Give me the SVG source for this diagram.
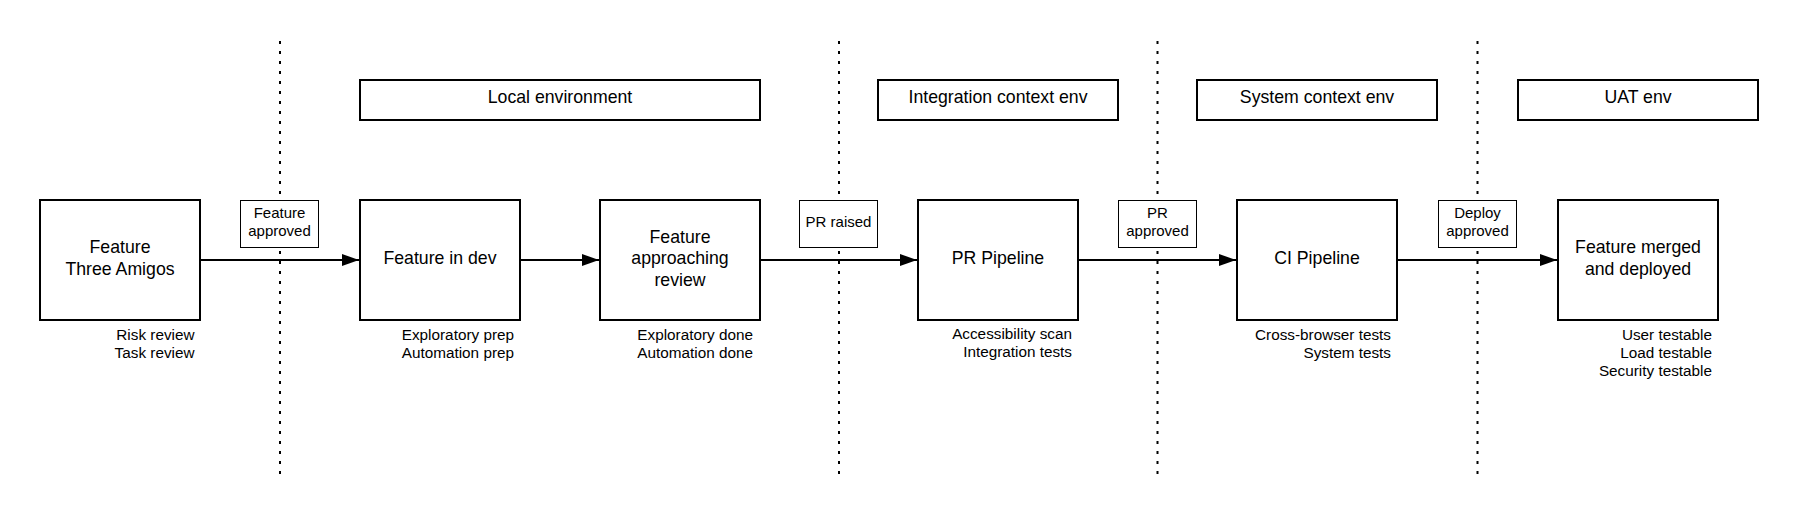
<svg xmlns="http://www.w3.org/2000/svg" width="1798" height="520" viewBox="0 0 1798 520">
<defs>
<style>
.bg{fill:#ffffff}
.box{fill:#ffffff;stroke:#000000;stroke-width:2}
.lbl{fill:#ffffff;stroke:#000000;stroke-width:1}
.div{stroke:#000000;stroke-width:2;stroke-dasharray:3 7;fill:none}
.edge{stroke:#000000;stroke-width:2;fill:none}
.t18{font-family:"Liberation Sans",Arial,sans-serif;font-size:17.7px;fill:#000000;text-anchor:middle}
.t15{font-family:"Liberation Sans",Arial,sans-serif;font-size:15px;fill:#000000;text-anchor:middle}
.sub{font-family:"Liberation Sans",Arial,sans-serif;font-size:15.3px;fill:#000000;text-anchor:end}
</style>
<marker id="arr" viewBox="0 0 17 12" refX="17" refY="6" markerWidth="17" markerHeight="12" markerUnits="userSpaceOnUse" orient="auto">
<path d="M0,0 L17,6 L0,12 Z" fill="#000000"/>
</marker>
</defs>
<rect class="bg" x="0" y="0" width="1798" height="520"/>

<g id="dividers">
<line class="div" x1="280" y1="41" x2="280" y2="481"/>
<line class="div" x1="839" y1="41" x2="839" y2="481"/>
<line class="div" x1="1157.5" y1="41" x2="1157.5" y2="481"/>
<line class="div" x1="1477.5" y1="41" x2="1477.5" y2="481"/>
</g>

<g id="connectors">
<line class="edge" x1="200" y1="260" x2="359" y2="260" marker-end="url(#arr)"/>
<line class="edge" x1="520" y1="260" x2="599" y2="260" marker-end="url(#arr)"/>
<line class="edge" x1="760" y1="260" x2="917" y2="260" marker-end="url(#arr)"/>
<line class="edge" x1="1078" y1="260" x2="1236" y2="260" marker-end="url(#arr)"/>
<line class="edge" x1="1397" y1="260" x2="1557" y2="260" marker-end="url(#arr)"/>
</g>

<g id="env-local">
<rect class="box" x="360" y="80" width="400" height="40"/>
<text class="t18" x="560" y="103">Local environment</text>
</g>
<g id="env-integration">
<rect class="box" x="878" y="80" width="240" height="40"/>
<text class="t18" x="998" y="103">Integration context env</text>
</g>
<g id="env-system">
<rect class="box" x="1197" y="80" width="240" height="40"/>
<text class="t18" x="1317" y="103">System context env</text>
</g>
<g id="env-uat">
<rect class="box" x="1518" y="80" width="240" height="40"/>
<text class="t18" x="1638" y="103">UAT env</text>
</g>

<g id="label-feature-approved">
<rect class="lbl" x="240.5" y="200.5" width="78" height="47"/>
<text class="t15" x="279.5" y="217.5">Feature</text>
<text class="t15" x="279.5" y="235.5">approved</text>
</g>
<g id="label-pr-raised">
<rect class="lbl" x="799.5" y="200.5" width="78" height="47"/>
<text class="t15" x="838.5" y="227">PR raised</text>
</g>
<g id="label-pr-approved">
<rect class="lbl" x="1118.5" y="200.5" width="78" height="47"/>
<text class="t15" x="1157.5" y="217.5">PR</text>
<text class="t15" x="1157.5" y="235.5">approved</text>
</g>
<g id="label-deploy-approved">
<rect class="lbl" x="1438.5" y="200.5" width="78" height="47"/>
<text class="t15" x="1477.5" y="217.5">Deploy</text>
<text class="t15" x="1477.5" y="235.5">approved</text>
</g>

<g id="node-three-amigos">
<rect class="box" x="40" y="200" width="160" height="120"/>
<text class="t18" x="120" y="253">Feature</text>
<text class="t18" x="120" y="274.5">Three Amigos</text>
<text class="sub" x="194.5" y="339.5">Risk review</text>
<text class="sub" x="194.5" y="357.5">Task review</text>
</g>
<g id="node-feature-in-dev">
<rect class="box" x="360" y="200" width="160" height="120"/>
<text class="t18" x="440" y="264">Feature in dev</text>
<text class="sub" x="514" y="339.5">Exploratory prep</text>
<text class="sub" x="514" y="357.5">Automation prep</text>
</g>
<g id="node-approaching-review">
<rect class="box" x="600" y="200" width="160" height="120"/>
<text class="t18" x="680" y="242.5">Feature</text>
<text class="t18" x="680" y="264">approaching</text>
<text class="t18" x="680" y="285.5">review</text>
<text class="sub" x="753" y="339.5">Exploratory done</text>
<text class="sub" x="753" y="357.5">Automation done</text>
</g>
<g id="node-pr-pipeline">
<rect class="box" x="918" y="200" width="160" height="120"/>
<text class="t18" x="998" y="264">PR Pipeline</text>
<text class="sub" x="1072" y="338.5">Accessibility scan</text>
<text class="sub" x="1072" y="356.5">Integration tests</text>
</g>
<g id="node-ci-pipeline">
<rect class="box" x="1237" y="200" width="160" height="120"/>
<text class="t18" x="1317" y="264">CI Pipeline</text>
<text class="sub" x="1391" y="339.5">Cross-browser tests</text>
<text class="sub" x="1391" y="357.5">System tests</text>
</g>
<g id="node-merged-deployed">
<rect class="box" x="1558" y="200" width="160" height="120"/>
<text class="t18" x="1638" y="253">Feature merged</text>
<text class="t18" x="1638" y="274.5">and deployed</text>
<text class="sub" x="1712" y="339.5">User testable</text>
<text class="sub" x="1712" y="357.5">Load testable</text>
<text class="sub" x="1712" y="375.5">Security testable</text>
</g>
</svg>
